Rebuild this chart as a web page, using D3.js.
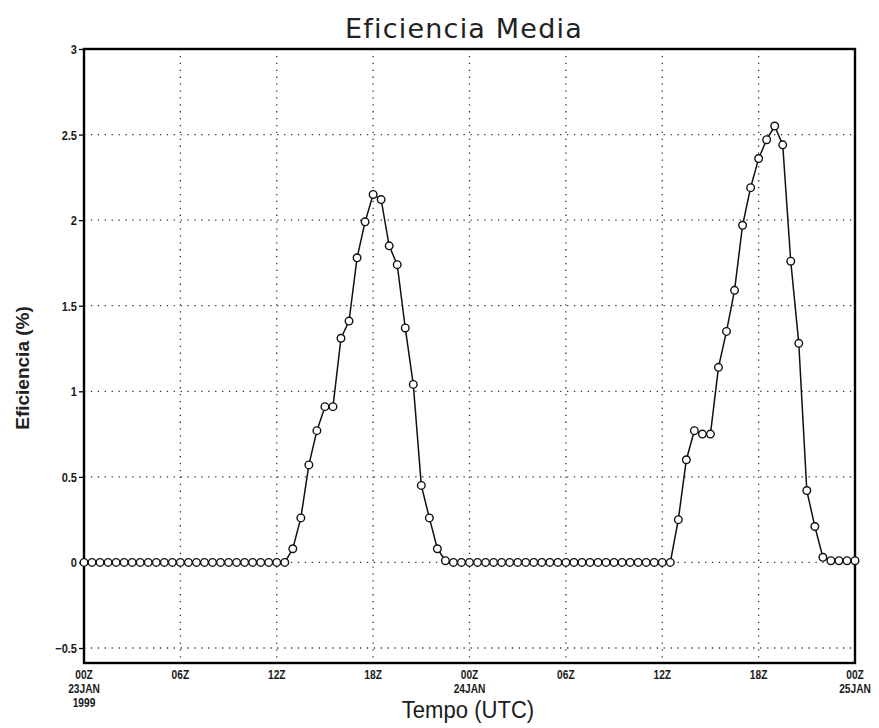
<!DOCTYPE html>
<html>
<head>
<meta charset="utf-8">
<script src="https://cdn.jsdelivr.net/npm/d3@7"></script>
<style>
  html, body { margin: 0; padding: 0; background: #fff; }
  svg { display: block; }
</style>
</head>
<body>
<svg id="chart" width="879" height="728"></svg>
<script>
// Half-hourly mean efficiency (%), 00Z 23JAN1999 to 00Z 25JAN1999
const hours = d3.range(0, 48.5, 0.5);
const efficiency = [
  // 23JAN 00Z - 12:30Z
  0, 0, 0, 0, 0, 0, 0, 0, 0, 0, 0, 0, 0, 0, 0, 0, 0, 0, 0, 0, 0, 0, 0, 0, 0, 0,
  // 13Z - 22:30Z
  0.08, 0.26, 0.57, 0.77, 0.91, 0.91, 1.31, 1.41, 1.78, 1.99,
  2.15, 2.12, 1.85, 1.74, 1.37, 1.04, 0.45, 0.26, 0.08, 0.01,
  // 23Z - 24JAN 12:30Z
  0, 0, 0, 0, 0, 0, 0, 0, 0, 0, 0, 0, 0, 0, 0, 0, 0, 0, 0, 0, 0, 0, 0, 0, 0, 0, 0, 0,
  // 24JAN 13Z - 25JAN 00Z
  0.25, 0.60, 0.77, 0.75, 0.75, 1.14, 1.35, 1.59, 1.97, 2.19,
  2.36, 2.47, 2.55, 2.44, 1.76, 1.28, 0.42, 0.21, 0.03, 0.01,
  0.01, 0.01, 0.01
];
const yTicks = [-0.5, 0, 0.5, 1, 1.5, 2, 2.5, 3];
const yTickLabels = ["\u22120.5", "0", "0.5", "1", "1.5", "2", "2.5", "3"];
const xTicks = [0, 6, 12, 18, 24, 30, 36, 42, 48];
const xTickLabels = [
  ["00Z", "23JAN", "1999"], ["06Z"], ["12Z"], ["18Z"],
  ["00Z", "24JAN"], ["06Z"], ["12Z"], ["18Z"], ["00Z", "25JAN"]
];
const titleText = "Eficiencia Media";
const xTitle = "Tempo (UTC)";
const yTitle = "Eficiencia (%)";

const svg = d3.select("#chart");
const plotL = 84, plotR = 855, plotT = 49, plotB = 663;

const x = d3.scaleLinear().domain([0, 48]).range([plotL, plotR]);
const y = d3.scaleLinear().domain([-0.5, 3]).range([648, plotT]);

const sans = "'Liberation Sans', Arial, sans-serif";

// horizontally condensed text helper
function condensed(parent, px, py, str, opts) {
  const g = parent.append("g")
    .attr("transform", `translate(${px},${py}) scale(${opts.sx},1)`);
  return g.append("text")
    .attr("x", 0).attr("y", 0)
    .attr("text-anchor", opts.anchor || "middle")
    .attr("font-family", sans)
    .attr("font-size", opts.size)
    .attr("font-weight", opts.weight || "normal")
    .attr("fill", "#1a1a1a")
    .text(str);
}

// dotted grid
const grid = svg.append("g")
  .attr("stroke", "#333")
  .attr("stroke-width", 1.3)
  .attr("stroke-dasharray", "1.3,5.6")
  .attr("fill", "none");
grid.selectAll("line.h")
  .data(yTicks.filter(v => v < 3))
  .join("line")
  .attr("class", "h")
  .attr("x1", plotL).attr("x2", plotR)
  .attr("y1", d => y(d)).attr("y2", d => y(d));
grid.selectAll("line.v")
  .data(xTicks.filter(v => v > 0 && v < 48))
  .join("line")
  .attr("class", "v")
  .attr("x1", d => x(d)).attr("x2", d => x(d))
  .attr("y1", plotT).attr("y2", plotB);

// y axis tick marks
const yAxis = d3.axisLeft(y)
  .tickValues(yTicks)
  .tickFormat("")
  .tickSize(5);
const gy = svg.append("g").attr("transform", `translate(${plotL},0)`).call(yAxis);
gy.select(".domain").remove();
gy.selectAll(".tick line").attr("stroke", "#000").attr("stroke-width", 1.3);

// y tick labels
const gyl = svg.append("g");
yTicks.forEach((t, i) => {
  condensed(gyl, 77, y(t) + 5, yTickLabels[i], { sx: 0.85, size: 13, weight: "bold", anchor: "end" });
});

// x tick labels (stacked lines)
const gx = svg.append("g");
xTicks.forEach((t, i) => {
  xTickLabels[i].forEach((s, k) => {
    condensed(gx, x(t), 679 + k * 14, s, { sx: 0.85, size: 12, weight: "bold" });
  });
});

// frame
svg.append("rect")
  .attr("x", plotL).attr("y", plotT)
  .attr("width", plotR - plotL).attr("height", plotB - plotT)
  .attr("fill", "none")
  .attr("stroke", "#000")
  .attr("stroke-width", 2.4);

// series line
const line = d3.line()
  .x((d, i) => x(hours[i]))
  .y(d => y(d));
svg.append("path")
  .datum(efficiency)
  .attr("d", line)
  .attr("fill", "none")
  .attr("stroke", "#111")
  .attr("stroke-width", 1.5);

// markers
svg.append("g")
  .selectAll("circle")
  .data(efficiency)
  .join("circle")
  .attr("cx", (d, i) => x(hours[i]))
  .attr("cy", d => y(d))
  .attr("r", 3.8)
  .attr("fill", "#fff")
  .attr("stroke", "#111")
  .attr("stroke-width", 1.4);

// titles
svg.append("text")
  .attr("x", 464).attr("y", 38)
  .attr("text-anchor", "middle")
  .attr("font-family", "'DejaVu Sans', sans-serif")
  .attr("font-size", 27)
  .attr("letter-spacing", 1.2)
  .attr("fill", "#222")
  .text(titleText);

condensed(svg, 468, 718, xTitle, { sx: 0.92, size: 24 });

svg.append("text")
  .attr("transform", "translate(29,368) rotate(-90)")
  .attr("text-anchor", "middle")
  .attr("font-family", sans)
  .attr("font-size", 19)
  .attr("font-weight", "bold")
  .attr("fill", "#222")
  .text(yTitle);
</script>
</body>
</html>
